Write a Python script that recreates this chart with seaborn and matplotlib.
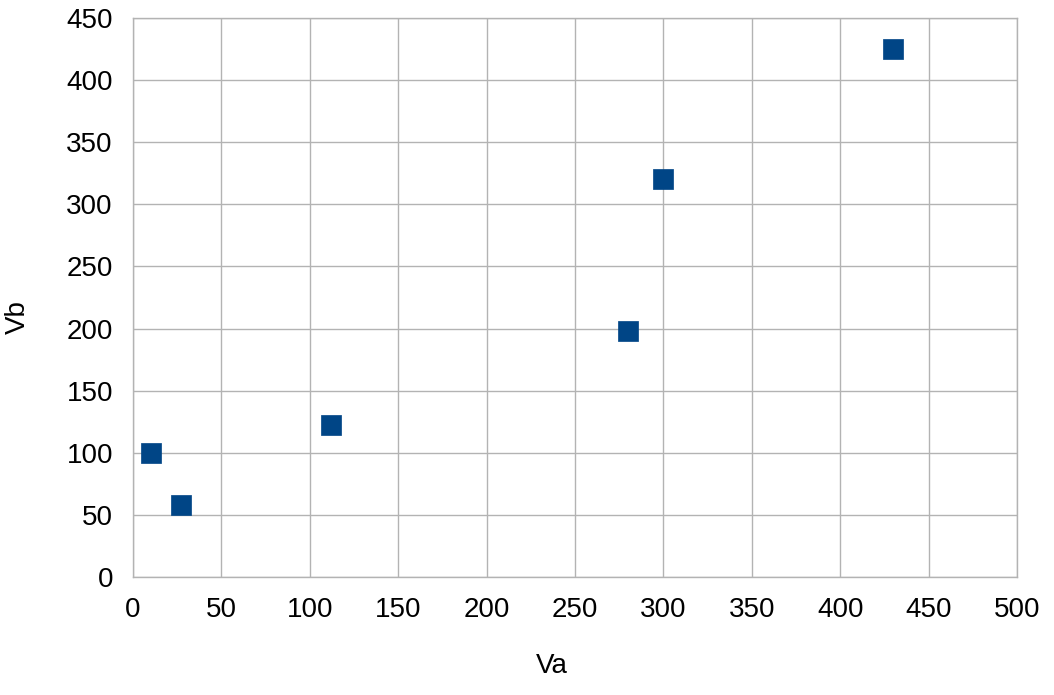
"""Scatter of Vb against Va, LibreOffice-style."""
import matplotlib
matplotlib.use('Agg')
import matplotlib.pyplot as plt
import seaborn as sns
import pandas as pd

va = [10, 27, 112, 280, 300, 430]
vb = [100, 58, 122, 198, 320, 425]
x_ticks = [0, 50, 100, 150, 200, 250, 300, 350, 400, 450, 500]
y_ticks = [0, 50, 100, 150, 200, 250, 300, 350, 400, 450]

GRID = '#b3b3b3'

sns.set_style('white')
plt.rcParams['font.family'] = ['Liberation Sans', 'DejaVu Sans']

df = pd.DataFrame({'Va': va, 'Vb': vb})

fig = plt.figure(figsize=(10.54, 6.95), dpi=100)
ax = fig.add_axes([0.1262, 0.1698, 0.8387, 0.8043])

sns.scatterplot(data=df, x='Va', y='Vb', marker='s', s=225, color='#004586',
                edgecolor='#004586', linewidth=0.5, ax=ax, zorder=3)

ax.set_xlim(0, 500)
ax.set_ylim(0, 450)
ax.set_xticks(x_ticks)
ax.set_yticks(y_ticks)
ax.grid(True, color=GRID, linewidth=1)
for sp in ax.spines.values():
    sp.set_color(GRID)
    sp.set_linewidth(1)
ax.tick_params(axis='both', direction='out', length=8.5, width=1, color=GRID,
               labelsize=20, labelcolor='black', pad=6)

# labels sit slightly off-centre in the original
ax.set_xlabel('Va', fontsize=20, va='center', color='black')
ax.set_ylabel('Vb', fontsize=20, va='center', color='black')
ax.xaxis.set_label_coords(0.474, -0.159)
ax.yaxis.set_label_coords(-0.130, 0.465)

fig.savefig('out.png', dpi=100)
